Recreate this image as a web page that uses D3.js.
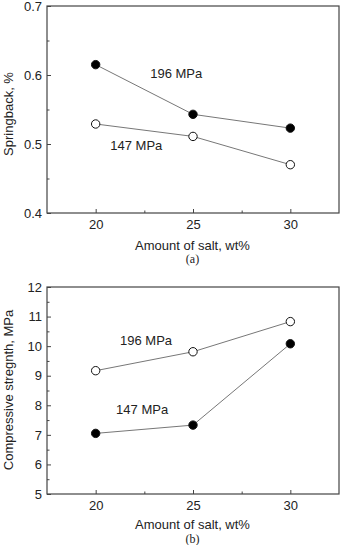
<!DOCTYPE html>
<html>
<head>
<meta charset="utf-8">
<script src="https://cdnjs.cloudflare.com/ajax/libs/d3/7.8.5/d3.min.js"></script>
<style>
  body { margin: 0; background: #fff; }
  svg { display: block; }
  text { font-family: Arial, "Liberation Sans", sans-serif; fill: #222; }
</style>
</head>
<body>
<div id="chart"></div>
<script>
// amount of salt (wt%)
var salt = [20, 25, 30];

// (a) springback, %
var springback196 = [0.615, 0.543, 0.523];
var springback147 = [0.529, 0.511, 0.470];

// (b) compressive strength, MPa
var strength196 = [9.17, 9.81, 10.83];
var strength147 = [7.05, 7.33, 10.08];

var xTicks = [20, 25, 30];
var springTicks = [0.4, 0.5, 0.6, 0.7];
var strengthTicks = [5, 6, 7, 8, 9, 10, 11, 12];

var width = 343, height = 545;

var svg = d3.select("#chart").append("svg")
  .attr("width", width)
  .attr("height", height);

var left = 47, right = 339;

var x = d3.scaleLinear().domain([17.5, 32.5]).range([left, right]);

function panel(top, bottom, yDomain, yTicks, yMinor, fmt, filled, open, filledLbl, openLbl, yTitle, tag, titleY, xTitleY, tagY) {
  var y = d3.scaleLinear().domain(yDomain).range([bottom, top]);
  var g = svg.append("g");

  // minor ticks
  g.append("g")
    .attr("transform", "translate(" + left + ",0)")
    .call(d3.axisLeft(y).tickValues(yMinor).tickSize(-2.5).tickFormat(""))
    .call(function (a) { a.select(".domain").remove(); a.selectAll("line").attr("stroke", "#444"); });
  g.append("g")
    .attr("transform", "translate(0," + bottom + ")")
    .call(d3.axisBottom(x).tickValues([22.5, 27.5]).tickSize(-2.5).tickFormat(""))
    .call(function (a) { a.select(".domain").remove(); a.selectAll("line").attr("stroke", "#444"); });

  // major ticks + labels
  g.append("g")
    .attr("transform", "translate(" + left + ",0)")
    .call(d3.axisLeft(y).tickValues(yTicks).tickSize(-4).tickPadding(5).tickFormat(fmt))
    .call(function (a) {
      a.select(".domain").remove();
      a.selectAll("line").attr("stroke", "#444");
      a.selectAll("text").attr("font-size", 13).attr("fill", "#222")
        .style("font-family", "Arial, 'Liberation Sans', sans-serif");
    });
  g.append("g")
    .attr("transform", "translate(0," + bottom + ")")
    .call(d3.axisBottom(x).tickValues(xTicks).tickSize(-4).tickPadding(7))
    .call(function (a) {
      a.select(".domain").remove();
      a.selectAll("line").attr("stroke", "#444");
      a.selectAll("text").attr("font-size", 13).attr("fill", "#222")
        .style("font-family", "Arial, 'Liberation Sans', sans-serif");
    });

  // frame
  g.append("rect")
    .attr("x", left).attr("y", top)
    .attr("width", right - left).attr("height", bottom - top)
    .attr("fill", "none").attr("stroke", "#444").attr("stroke-width", 1.2);

  var line = d3.line()
    .x(function (d, i) { return x(salt[i]); })
    .y(function (d) { return y(d); });

  [[open, "#fff"], [filled, "#000"]].forEach(function (s) {
    g.append("path")
      .datum(s[0])
      .attr("d", line)
      .attr("fill", "none")
      .attr("stroke", "#777")
      .attr("stroke-width", 1);
    g.selectAll(null)
      .data(s[0])
      .enter().append("circle")
      .attr("cx", function (d, i) { return x(salt[i]); })
      .attr("cy", function (d) { return y(d); })
      .attr("r", 4.2)
      .attr("fill", s[1])
      .attr("stroke", "#111")
      .attr("stroke-width", 1);
  });

  // series labels
  [filledLbl, openLbl].forEach(function (l) {
    g.append("text")
      .attr("x", x(l.x)).attr("y", y(l.y))
      .attr("font-size", 13)
      .attr("dominant-baseline", "middle")
      .text(l.text);
  });

  // axis titles
  g.append("text")
    .attr("transform", "translate(13," + titleY + ") rotate(-90)")
    .attr("text-anchor", "middle")
    .attr("font-size", 13)
    .text(yTitle);
  g.append("text")
    .attr("x", (left + right) / 2 - 0.5).attr("y", xTitleY)
    .attr("text-anchor", "middle")
    .attr("font-size", 13)
    .text("Amount of salt, wt%");
  g.append("text")
    .attr("x", (left + right) / 2 - 0.5).attr("y", tagY)
    .attr("text-anchor", "middle")
    .attr("font-size", 12)
    .style("font-family", "'Liberation Serif', 'DejaVu Serif', serif")
    .text(tag);
}

panel(6, 213, [0.4, 0.7], springTicks, [0.45, 0.55, 0.65], d3.format(".1f"),
  springback196, springback147,
  { x: 22.8, y: 0.600, text: "196 MPa" },
  { x: 20.75, y: 0.497, text: "147 MPa" },
  "Springback, %", "(a)", 114, 250, 263);

panel(287, 494, [5, 12], strengthTicks, [5.5, 6.5, 7.5, 8.5, 9.5, 10.5, 11.5], d3.format("d"),
  strength147, strength196,
  { x: 21.05, y: 7.81, text: "147 MPa" },
  { x: 21.25, y: 10.17, text: "196 MPa" },
  "Compressive stregnth, MPa", "(b)", 390, 529, 543);
</script>
</body>
</html>
